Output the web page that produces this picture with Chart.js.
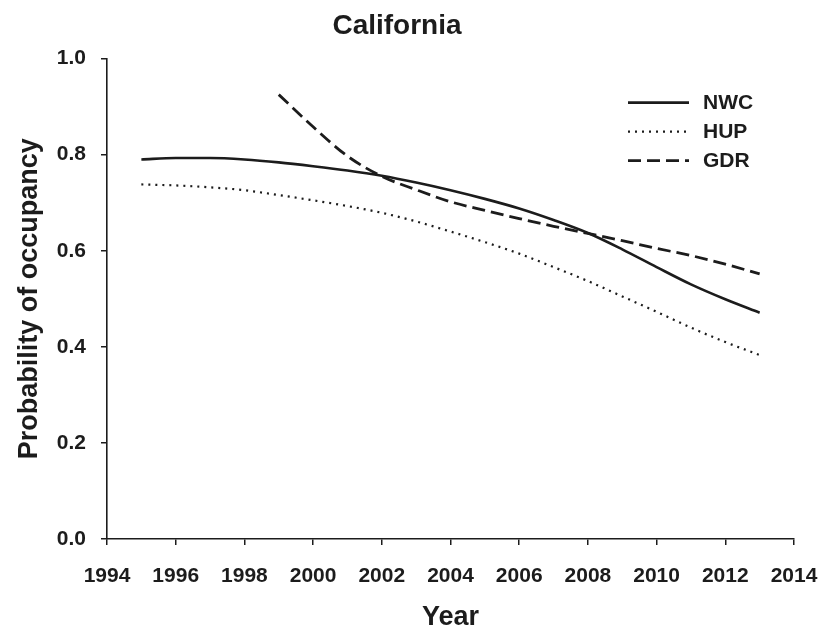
<!DOCTYPE html>
<html>
<head>
<meta charset="utf-8">
<title>California</title>
<script src="https://cdn.jsdelivr.net/npm/chart.js@4/dist/chart.umd.min.js"></script>
<style>
  html, body { margin: 0; padding: 0; background: #ffffff; }
  #wrap { width: 820px; height: 628px; }
</style>
</head>
<body>
<div id="wrap"><canvas id="chart" width="820" height="628"></canvas></div>
<script>
// Fitted occupancy probability by year, one series per region
const years = [1995, 1996, 1997, 1998, 1999, 2000, 2001, 2002, 2003, 2004,
               2005, 2006, 2007, 2008, 2009, 2010, 2011, 2012, 2013];
const nwcValues = [0.790, 0.793, 0.793, 0.790, 0.784, 0.776, 0.767, 0.756, 0.742, 0.726,
                   0.708, 0.688, 0.664, 0.637, 0.603, 0.566, 0.530, 0.499, 0.471];
const hupValues = [0.738, 0.736, 0.732, 0.726, 0.716, 0.705, 0.693, 0.679, 0.661, 0.640,
                   0.618, 0.594, 0.566, 0.537, 0.505, 0.473, 0.440, 0.410, 0.383];
const gdrYears = [1999, 2000, 2001, 2002, 2003, 2004, 2005, 2006, 2007, 2008,
                  2009, 2010, 2011, 2012, 2013];
const gdrValues = [0.925, 0.858, 0.797, 0.755, 0.727, 0.702, 0.684, 0.667, 0.651, 0.636,
                   0.621, 0.605, 0.590, 0.572, 0.552];
const seriesNames = ['NWC', 'HUP', 'GDR'];
const xTicks = [1994, 1996, 1998, 2000, 2002, 2004, 2006, 2008, 2010, 2012, 2014];
const yTicks = [0.0, 0.2, 0.4, 0.6, 0.8, 1.0];

const toPoints = (xs, ys) => xs.map((x, i) => ({ x: x, y: ys[i] }));
const ink = '#1c1c1c';
const fontFamily = '"Liberation Sans", Arial, Helvetica, sans-serif';

// Legend drawn inside the plot, top-right, using each dataset's own stroke style
const insideLegend = {
  id: 'insideLegend',
  afterDatasetsDraw(chart) {
    const { ctx, chartArea } = chart;
    const x0 = chartArea.right - 166;
    const x1 = chartArea.right - 105;
    const tx = chartArea.right - 91;
    ctx.save();
    chart.data.datasets.forEach((ds, i) => {
      const y = chartArea.top + 44 + i * 29;
      ctx.beginPath();
      ctx.setLineDash(ds.borderDash || []);
      ctx.lineWidth = ds.borderWidth;
      ctx.strokeStyle = ds.borderColor;
      ctx.moveTo(x0, y);
      ctx.lineTo(x1, y);
      ctx.stroke();
      ctx.setLineDash([]);
      ctx.fillStyle = ink;
      ctx.font = 'bold 21px ' + fontFamily;
      ctx.textAlign = 'left';
      ctx.textBaseline = 'middle';
      ctx.fillText(ds.label, tx, y + 1);
    });
    ctx.restore();
  }
};

new Chart(document.getElementById('chart'), {
  type: 'line',
  data: {
    datasets: [
      {
        label: seriesNames[0],
        data: toPoints(years, nwcValues),
        borderColor: ink,
        borderWidth: 2.6,
        borderDash: [],
        pointRadius: 0,
        fill: false,
        cubicInterpolationMode: 'monotone'
      },
      {
        label: seriesNames[1],
        data: toPoints(years, hupValues),
        borderColor: ink,
        borderWidth: 2.2,
        borderDash: [2, 5],
        pointRadius: 0,
        fill: false,
        cubicInterpolationMode: 'monotone'
      },
      {
        label: seriesNames[2],
        data: toPoints(gdrYears, gdrValues),
        borderColor: ink,
        borderWidth: 2.8,
        borderDash: [13, 6],
        pointRadius: 0,
        fill: false,
        cubicInterpolationMode: 'monotone'
      }
    ]
  },
  options: {
    responsive: false,
    animation: false,
    devicePixelRatio: 1,
    layout: { padding: { left: 0, right: 26, top: 0, bottom: 0 } },
    plugins: {
      legend: { display: false },
      tooltip: { enabled: false },
      title: {
        display: true,
        text: 'California',
        color: ink,
        font: { family: fontFamily, size: 28, weight: 'bold', lineHeight: 1.2 },
        padding: { top: 9, bottom: 16 }
      }
    },
    scales: {
      x: {
        type: 'linear',
        min: 1994,
        max: 2014,
        afterBuildTicks(scale) {
          scale.ticks = xTicks.map(v => ({ value: v }));
        },
        afterFit(scale) {
          scale.height = 89;
          scale.paddingLeft = 0;
          scale.paddingRight = 0;
        },
        ticks: {
          color: ink,
          padding: 19,
          font: { family: fontFamily, size: 21, weight: 'bold' },
          callback: v => String(v),
          maxRotation: 0,
          autoSkip: false
        },
        grid: { drawOnChartArea: false, drawTicks: true, tickLength: 6, color: ink, lineWidth: 1.5 },
        border: { display: true, color: ink, width: 1.6 },
        title: {
          display: true,
          text: 'Year',
          color: ink,
          font: { family: fontFamily, size: 27, weight: 'bold', lineHeight: 0.8 },
          padding: { top: 0, bottom: 0 }
        }
      },
      y: {
        type: 'linear',
        min: 0,
        max: 1,
        afterBuildTicks(scale) {
          scale.ticks = yTicks.map(v => ({ value: v }));
        },
        afterFit(scale) { scale.width = 107; },
        ticks: {
          color: ink,
          padding: 15,
          font: { family: fontFamily, size: 21, weight: 'bold' },
          callback: v => Number(v).toFixed(1)
        },
        grid: { drawOnChartArea: false, drawTicks: true, tickLength: 6, color: ink, lineWidth: 1.5 },
        border: { display: true, color: ink, width: 1.6 },
        title: {
          display: true,
          text: 'Probability of occupancy',
          color: ink,
          font: { family: fontFamily, size: 27, weight: 'bold', lineHeight: 1 },
          padding: { top: 16, bottom: 0 }
        }
      }
    }
  },
  plugins: [insideLegend]
});
</script>
</body>
</html>
